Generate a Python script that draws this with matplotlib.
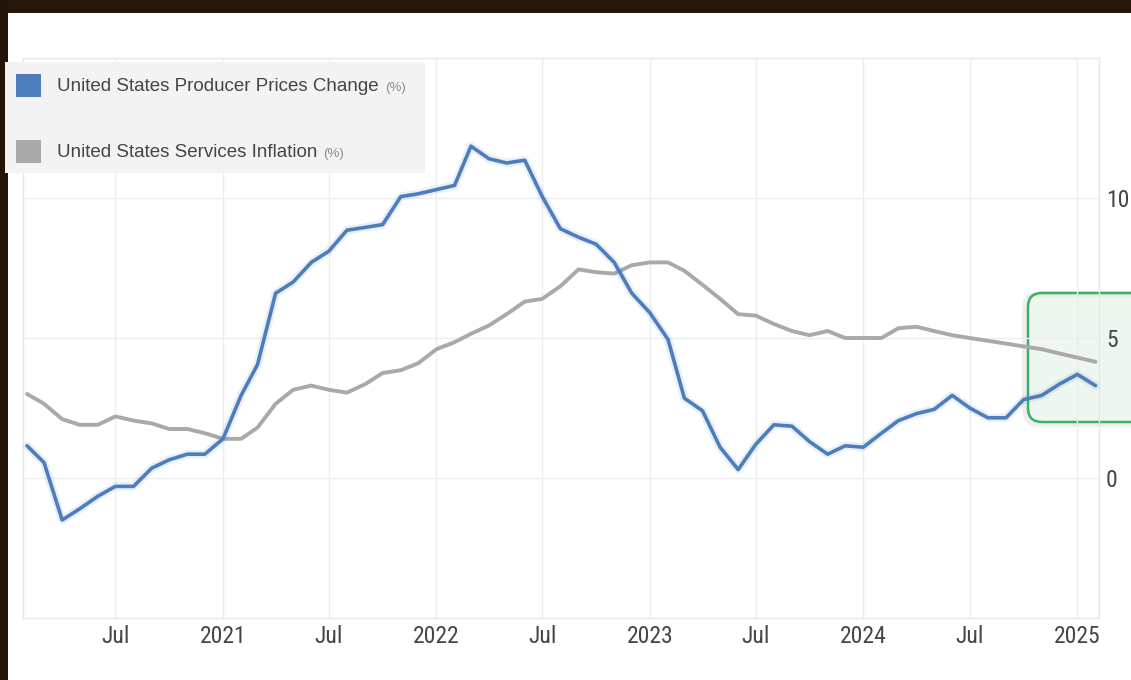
import matplotlib
matplotlib.use('Agg')
import matplotlib.pyplot as plt
import matplotlib.dates as mdates
from matplotlib.patches import FancyBboxPatch, Rectangle
from matplotlib.ticker import FuncFormatter
import pandas as pd

# monthly readings, Feb 2020 .. Feb 2025
months = pd.date_range('2020-02-01', '2025-02-01', freq='MS')

producer_prices = [
    1.15, 0.55, -1.5, -1.1, -0.65, -0.3, -0.3, 0.35, 0.65, 0.85, 0.85, 1.4,
    2.95, 4.05, 6.6, 7.0, 7.7, 8.1, 8.85, 8.95, 9.05, 10.05, 10.15, 10.3,
    10.45, 11.85, 11.4, 11.25, 11.35, 10.05, 8.9, 8.6, 8.35, 7.7, 6.6, 5.9,
    4.95, 2.85, 2.4, 1.1, 0.3, 1.2, 1.9, 1.85, 1.3, 0.85, 1.15, 1.1,
    1.6, 2.05, 2.3, 2.45, 2.95, 2.5, 2.15, 2.15, 2.8, 2.95, 3.35, 3.7,
    3.3,
]

services_inflation = [
    3.0, 2.65, 2.1, 1.9, 1.9, 2.2, 2.05, 1.95, 1.75, 1.75, 1.6, 1.4,
    1.4, 1.8, 2.65, 3.15, 3.3, 3.15, 3.05, 3.35, 3.75, 3.85, 4.1, 4.6,
    4.85, 5.15, 5.45, 5.85, 6.3, 6.4, 6.85, 7.45, 7.35, 7.3, 7.6, 7.7,
    7.7, 7.4, 6.9, 6.4, 5.85, 5.8, 5.5, 5.25, 5.1, 5.25, 5.0, 5.0,
    5.0, 5.35, 5.4, 5.25, 5.1, 5.0, 4.9, 4.8, 4.7, 4.6, 4.45, 4.3,
    4.15,
]

series_names = ['United States Producer Prices Change',
                'United States Services Inflation']
unit_label = '(%)'
y_ticks = [0, 5, 10]

BLUE = '#4d7dbd'
GREY = '#a9a9a9'
TEXT = '#454545'
GRID = '#ededed'

W, H = 1131, 680
fig = plt.figure(figsize=(W / 100, H / 100), dpi=100)
fig.patch.set_facecolor('white')

ax = fig.add_axes([23 / W, 1 - 618 / H, (1099 - 23) / W, (618 - 58) / H])

ax.plot(months, services_inflation, color=GREY, lw=2.8,
        solid_joinstyle='round', solid_capstyle='round', zorder=3)
ax.plot(months, producer_prices, color=BLUE, lw=6, alpha=0.12,
        solid_joinstyle='round', solid_capstyle='round', zorder=4)
ax.plot(months, producer_prices, color=BLUE, lw=2.6,
        solid_joinstyle='round', solid_capstyle='round', zorder=5)

ax.set_xlim(pd.Timestamp('2020-01-25'), pd.Timestamp('2025-02-07'))
ax.set_ylim(-5, 15)

ax.xaxis.set_major_locator(mdates.MonthLocator(bymonth=[1, 7]))


def month_label(value, pos):
    d = mdates.num2date(value)
    return str(d.year) if d.month == 1 else 'Jul'


ax.xaxis.set_major_formatter(FuncFormatter(month_label))
ax.yaxis.tick_right()
ax.set_yticks(y_ticks)

tick_font = ['Roboto Condensed', 'Liberation Sans Narrow',
             'DejaVu Sans Condensed', 'Liberation Sans']
for lab in ax.get_xticklabels() + ax.get_yticklabels():
    lab.set_family(tick_font)
    lab.set_fontsize(17)
    lab.set_color(TEXT)
ax.tick_params(axis='x', length=0, pad=5)
ax.tick_params(axis='y', length=0, pad=5)

ax.grid(True, color=GRID, lw=1)
ax.set_axisbelow(True)
for side in ax.spines.values():
    side.set_color('#e6e6e6')
    side.set_linewidth(1)

# highlight around the latest readings (pixel coordinates, kept below the
# grid, the tick labels and the lines)
shadow = FancyBboxPatch((1025, H - 424), 120, 130, transform=None,
                        boxstyle='round,pad=0,rounding_size=14',
                        facecolor='none', edgecolor='#9a8c8c', lw=4,
                        alpha=0.15, zorder=0.3, clip_on=False)
ax.add_artist(shadow)
box = FancyBboxPatch((1028, H - 422), 118, 129, transform=None,
                     boxstyle='round,pad=0,rounding_size=14',
                     facecolor=(0.86, 0.93, 0.87, 0.45), edgecolor='#3bb068',
                     lw=1.8, zorder=0.4, clip_on=False)
ax.add_artist(box)

# dark frame around the screenshot
fig.add_artist(Rectangle((0, 1 - 13 / H), 1, 13 / H, transform=fig.transFigure,
                         facecolor='#261709', edgecolor='none', zorder=1))
fig.add_artist(Rectangle((0, 0), 8 / W, 1, transform=fig.transFigure,
                         facecolor='#221408', edgecolor='none', zorder=1))

# legend panel
fig.add_artist(Rectangle((5 / W, 1 - 173 / H), 420 / W, 111 / H,
                         transform=fig.transFigure, facecolor='#f3f3f3',
                         edgecolor='none', zorder=2))
renderer = fig.canvas.get_renderer()
for (name, color, top, base) in [(series_names[0], BLUE, 74, 91),
                                 (series_names[1], GREY, 140, 157)]:
    fig.add_artist(Rectangle((16 / W, 1 - (top + 23) / H), 25 / W, 23 / H,
                             transform=fig.transFigure, facecolor=color,
                             edgecolor='none', zorder=3))
    t = fig.text(57 / W, 1 - base / H, name, family='Liberation Sans',
                 fontsize=13.5, color=TEXT, va='baseline', zorder=4)
    bb = t.get_window_extent(renderer)
    fig.text((bb.x1 + 6) / W, 1 - base / H, unit_label, family='Liberation Sans',
             fontsize=9.5, color='#8c8c8c', va='baseline', zorder=4)

fig.savefig('out.png', dpi=100)
